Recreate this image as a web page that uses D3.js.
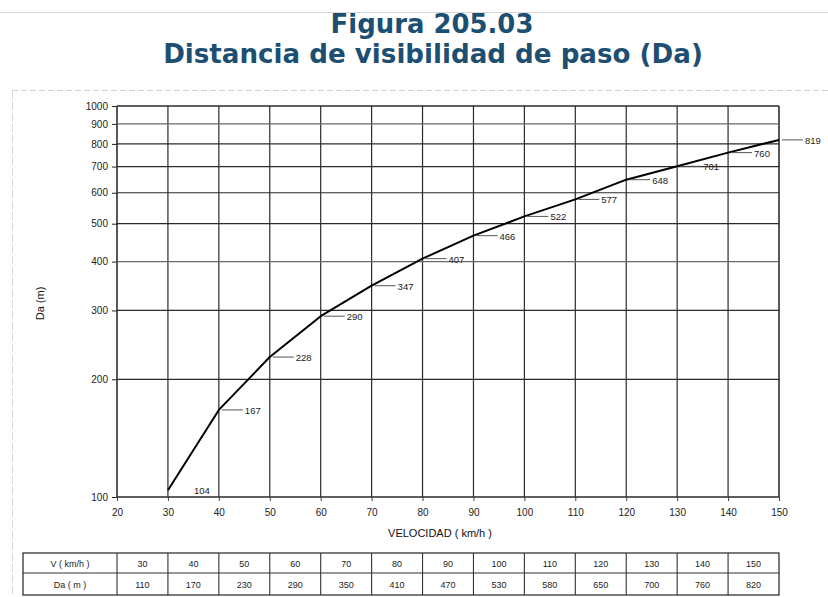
<!DOCTYPE html>
<html>
<head>
<meta charset="utf-8">
<script src="https://cdn.jsdelivr.net/npm/d3@7/dist/d3.min.js"></script>
<style>
  html, body { margin: 0; padding: 0; background: #fff; }
  svg { display: block; }
</style>
</head>
<body>
<svg id="chart" width="828" height="597"></svg>
<script>
// ---------------- DATA ----------------
const titleLine1 = "Figura 205.03";
const titleLine2 = "Distancia de visibilidad de paso (Da)";
const yLabel = "Da (m)";
const xLabel = "VELOCIDAD ( km/h )";

const xTicks = [20, 30, 40, 50, 60, 70, 80, 90, 100, 110, 120, 130, 140, 150];
const yTicks = [100, 200, 300, 400, 500, 600, 700, 800, 900, 1000];

// curve (labelled values)
const curveSpeed = [30, 40, 50, 60, 70, 80, 90, 100, 110, 120, 130, 140, 150];
const curveDa    = [104, 167, 228, 290, 347, 407, 466, 522, 577, 648, 701, 760, 819];

// table
const tableHeadV  = "V ( km/h )";
const tableHeadDa = "Da ( m )";
const tableV  = [30, 40, 50, 60, 70, 80, 90, 100, 110, 120, 130, 140, 150];
const tableDa = [110, 170, 230, 290, 350, 410, 470, 530, 580, 650, 700, 760, 820];

// ---------------- LAYOUT ----------------
const svg = d3.select("#chart");
const x = d3.scaleLinear().domain([20, 150]).range([117, 779]);
const y = d3.scaleLog().domain([100, 1000]).range([497, 106]);
const font = "'Liberation Sans', Arial, sans-serif";

// scan frame lines
svg.append("line").attr("x1", 0).attr("x2", 828).attr("y1", 12.5).attr("y2", 12.5)
  .attr("stroke", "#d8d8d8").attr("stroke-width", 1);
svg.append("line").attr("x1", 12).attr("x2", 828).attr("y1", 90.5).attr("y2", 90.5)
  .attr("stroke", "#d0d0d0").attr("stroke-width", 1).attr("stroke-dasharray", "6,3");
svg.append("line").attr("x1", 12.5).attr("x2", 12.5).attr("y1", 91).attr("y2", 597)
  .attr("stroke", "#d8d8d8").attr("stroke-width", 1).attr("stroke-dasharray", "8,3");

// titles
const titleColor = "#1c4f72";
function fitTitle(text, yBase, targetW, cx) {
  const t = svg.append("text").text(text)
    .attr("x", cx).attr("y", yBase).attr("text-anchor", "middle")
    .attr("font-family", "'DejaVu Sans', Verdana, sans-serif")
    .attr("font-weight", "bold").attr("fill", titleColor)
    .attr("font-size", 24);
  const w = t.node().getComputedTextLength();
  t.attr("font-size", 24 * targetW / w);
}
fitTitle(titleLine1, 33, 203, 432);
fitTitle(titleLine2, 63, 540, 433);

// grid
const g = svg.append("g");
g.selectAll(".vgrid").data(xTicks).join("line")
  .attr("x1", d => x(d)).attr("x2", d => x(d))
  .attr("y1", y(1000)).attr("y2", y(100))
  .attr("stroke", d => (d === 20 || d === 150) ? "#111" : "#2a2a2a")
  .attr("stroke-width", d => (d === 20 || d === 150) ? 1.4 : 1.2);
g.selectAll(".hgrid").data(yTicks).join("line")
  .attr("x1", x(20)).attr("x2", x(150))
  .attr("y1", d => y(d)).attr("y2", d => y(d))
  .attr("stroke", d => (d === 900 || d === 400) ? "#6a6a6a" : "#2a2a2a")
  .attr("stroke-width", d => (d === 100 || d === 1000) ? 1.4 : 1.2);

// y axis
const yAxis = d3.axisLeft(y).tickValues(yTicks).tickFormat(d3.format("d")).tickSize(5).tickPadding(4);
const ya = svg.append("g").attr("transform", `translate(${x(20)},0)`).call(yAxis);
ya.select(".domain").remove();
ya.selectAll("line").attr("stroke", "#222");
ya.selectAll("text").attr("font-family", font).attr("font-size", 10).attr("fill", "#222");

// x axis
const xAxis = d3.axisBottom(x).tickValues(xTicks).tickFormat(d3.format("d")).tickSize(4).tickPadding(8);
const xa = svg.append("g").attr("transform", `translate(0,${y(100)})`).call(xAxis);
xa.select(".domain").remove();
xa.selectAll("line").attr("stroke", "#444");
xa.selectAll("text").attr("font-family", font).attr("font-size", 10).attr("fill", "#222");

// axis titles
svg.append("text").text(xLabel)
  .attr("x", 440).attr("y", 537).attr("text-anchor", "middle")
  .attr("font-family", font).attr("font-size", 11).attr("fill", "#111");
svg.append("text").text(yLabel)
  .attr("transform", `translate(44,${y(Math.sqrt(100000)) + 2}) rotate(-90)`)
  .attr("text-anchor", "middle")
  .attr("font-family", font).attr("font-size", 11).attr("fill", "#111");

// curve
const pts = curveSpeed.map((s, i) => ({ s, v: curveDa[i] }));
svg.append("path").datum(pts)
  .attr("d", d3.line().x(d => x(d.s)).y(d => y(d.v)))
  .attr("fill", "none").attr("stroke", "#000").attr("stroke-width", 2)
  .attr("stroke-linejoin", "round");

// point labels with leader lines
const lab = svg.append("g");
lab.selectAll("line").data(pts.filter(d => d.s !== 30)).join("line")
  .attr("x1", d => x(d.s) + 3).attr("x2", d => x(d.s) + 24)
  .attr("y1", d => y(d.v)).attr("y2", d => y(d.v))
  .attr("stroke", "#555").attr("stroke-width", 1);
lab.selectAll("text").data(pts).join("text")
  .text(d => d.v)
  .attr("x", d => x(d.s) + 26).attr("y", d => y(d.v) + 4)
  .attr("font-family", font).attr("font-size", 9.5).attr("fill", "#222");

// table
const tRow1 = 553, tRow2 = 573, tRow3 = 595;
const tg = svg.append("g");
const tableLeft = 23;
tg.append("rect").attr("x", tableLeft).attr("y", tRow1)
  .attr("width", x(150) - tableLeft).attr("height", tRow3 - tRow1)
  .attr("fill", "none").attr("stroke", "#222").attr("stroke-width", 1.2);
tg.append("line").attr("x1", tableLeft).attr("x2", x(150)).attr("y1", tRow2).attr("y2", tRow2)
  .attr("stroke", "#333").attr("stroke-width", 1.1);
tg.selectAll(".tcol").data(tableV).join("line")
  .attr("x1", d => x(d - 10)).attr("x2", d => x(d - 10))
  .attr("y1", tRow1).attr("y2", tRow3)
  .attr("stroke", "#333").attr("stroke-width", 1.1);
tg.append("text").text(tableHeadV).attr("x", (tableLeft + x(20)) / 2).attr("y", tRow1 + 14)
  .attr("text-anchor", "middle").attr("font-family", font).attr("font-size", 9).attr("fill", "#222");
tg.append("text").text(tableHeadDa).attr("x", (tableLeft + x(20)) / 2).attr("y", tRow2 + 15)
  .attr("text-anchor", "middle").attr("font-family", font).attr("font-size", 9).attr("fill", "#222");
tg.selectAll(".tv").data(tableV).join("text").text(d => d)
  .attr("x", d => (x(d - 10) + x(d)) / 2).attr("y", tRow1 + 14)
  .attr("text-anchor", "middle").attr("font-family", font).attr("font-size", 9).attr("fill", "#222");
tg.selectAll(".td").data(tableDa).join("text").text(d => d)
  .attr("x", (d, i) => (x(tableV[i] - 10) + x(tableV[i])) / 2).attr("y", tRow2 + 15)
  .attr("text-anchor", "middle").attr("font-family", font).attr("font-size", 9).attr("fill", "#222");
</script>
</body>
</html>
